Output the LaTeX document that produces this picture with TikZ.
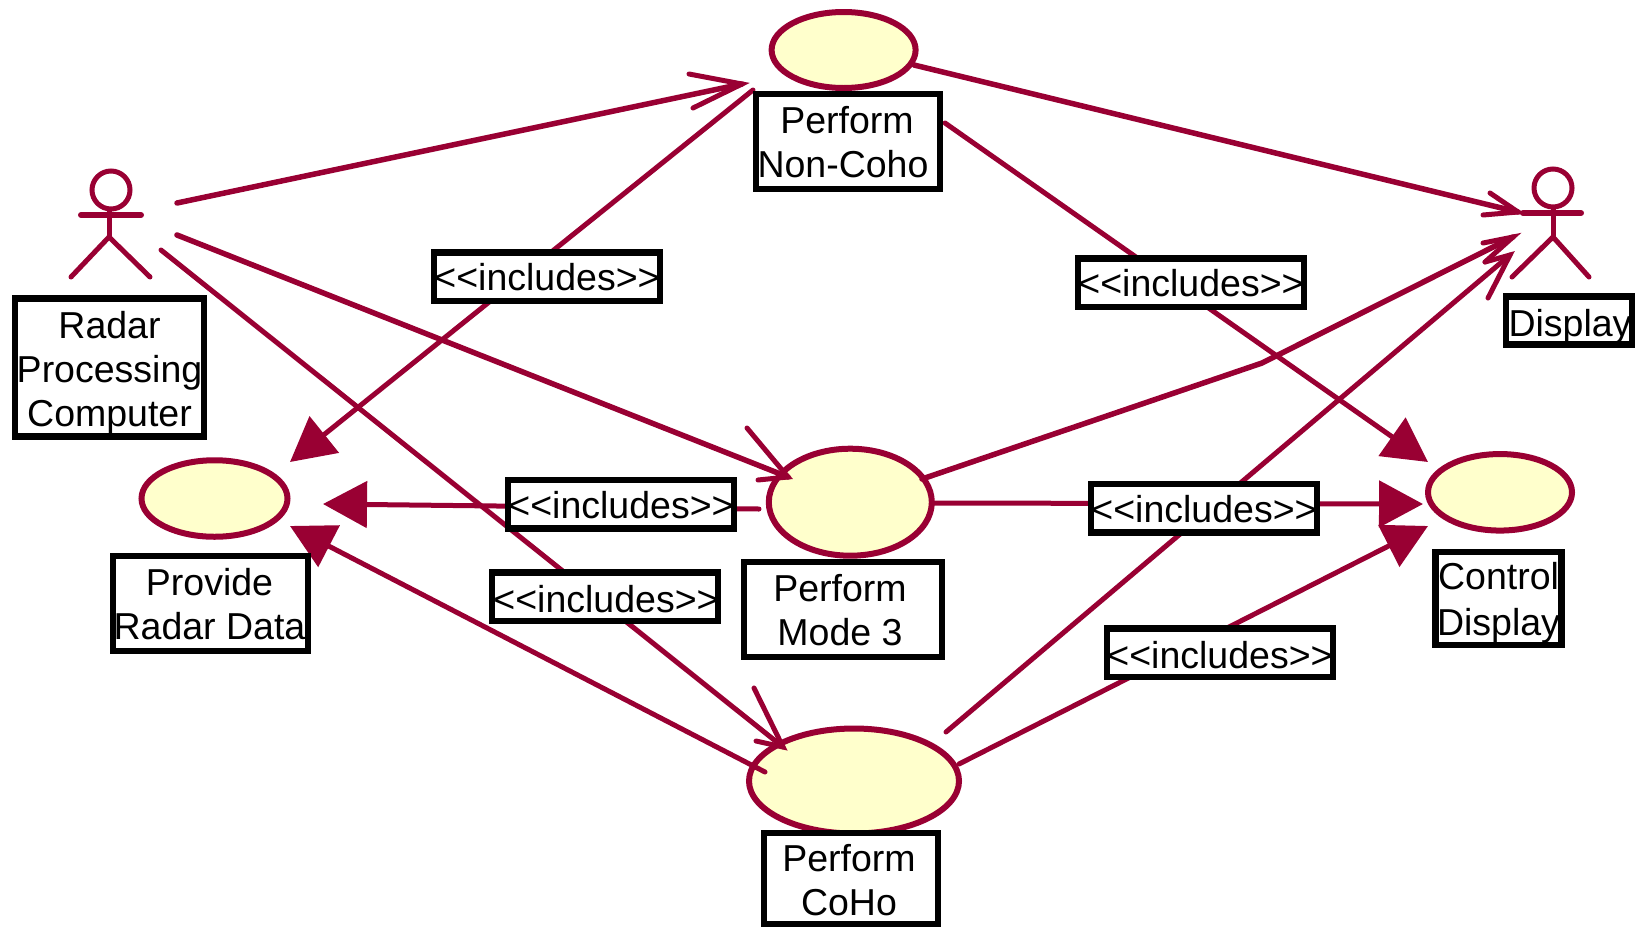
\documentclass[tikz,border=0pt]{standalone}
\usepackage{fontspec}
\setmainfont[Ligatures=NoCommon]{Liberation Sans}
\usetikzlibrary{arrows.meta,shapes.geometric}
\pgfdeclarelayer{uclayer}
\pgfdeclarelayer{linelayer}
\pgfsetlayers{uclayer,linelayer,main}
\definecolor{rosered}{HTML}{990033}
\definecolor{ucfill}{HTML}{FFFFCC}
\newcommand\tshift[3]{\smash{\raisebox{#2}{\hspace*{#1}\begin{tabular}{@{}c@{}}#3\end{tabular}\hspace*{-#1}}}}
\newcommand\incltext{<{}<includes>{}>}
\tikzset{
  x=1pt,y=-1pt,
  usecase/.style={ellipse,draw=rosered,fill=ucfill,line width=6pt,inner sep=0pt,outer sep=0pt},
  namebox/.style={draw=black,fill=white,line width=6.5pt,rectangle,inner sep=0pt,outer sep=0pt,
     font=\fontsize{37.5}{44}\selectfont},
  stereobox/.style={namebox,minimum width=226pt,minimum height=48.5pt},
  assoc/.style={draw=rosered,line width=5.5pt,line cap=round},
  assocthin/.style={draw=rosered,line width=5pt,line cap=round},
  barbhead/.style={draw=rosered,line width=5pt,line cap=round,line join=miter,miter limit=10},
  incl/.style={draw=rosered,line width=5pt,line cap=round,-{Triangle[length=44pt,width=46pt]}},
  actorline/.style={draw=rosered,line width=5pt,line cap=round},
}
\begin{document}
\begin{tikzpicture}
\useasboundingbox (0,0) rectangle (1637,927);
% use cases
\begin{pgfonlayer}{uclayer}
\node[usecase,minimum width=144pt,minimum height=76pt] (ucNonCoho) at (843.6,50) {};
\node[usecase,minimum width=163pt,minimum height=107pt] (ucMode) at (850.3,502.2) {};
\node[usecase,minimum width=146pt,minimum height=76.5pt] (ucProvide) at (214.5,498.5) {};
\node[usecase,minimum width=144pt,minimum height=76.5pt] (ucControl) at (1500,492.3) {};
\node[usecase,minimum width=210pt,minimum height=105pt] (ucCoho) at (854,781) {};
\end{pgfonlayer}
% actors
\node[ellipse,draw=rosered,line width=5pt,minimum width=38pt,minimum height=38pt,inner sep=0pt] (headL) at (111,190) {};
\coordinate (armLa) at (81,215); \coordinate (armLb) at (141,215);
\coordinate (hipL) at (109,237);
\coordinate (footLa) at (71,277); \coordinate (footLb) at (150,277);
\draw[actorline,line width=6pt] (armLa) -- (armLb);
\draw[actorline] (headL.south -| hipL) -- (hipL);
\draw[actorline] (footLa) -- (hipL) -- (footLb);
\node[ellipse,draw=rosered,line width=5pt,minimum width=38pt,minimum height=38pt,inner sep=0pt] (headR) at (1553,188) {};
\coordinate (armRa) at (1523,213); \coordinate (armRb) at (1581,213);
\coordinate (hipR) at (1553,237);
\coordinate (footRa) at (1512,277); \coordinate (footRb) at (1589,277);
\draw[actorline,line width=6pt] (armRa) -- (armRb);
\draw[actorline] (headR.south) -- (hipR);
\draw[actorline] (footRa) -- (hipR) -- (footRb);
% name boxes
\node[namebox,minimum width=189pt,minimum height=138pt] (nRadar) at (109.5,367.5) {\tshift{0pt}{-12.3pt}{Radar\\Processing\\Computer}};
\node[namebox,minimum width=184pt,minimum height=95pt] (nNonCoho) at (848,141.5) {\tshift{-1pt}{-11.5pt}{Perform\\Non-Coho\hspace*{8pt}}};
\node[namebox,minimum width=126pt,minimum height=48pt] (nDisplay) at (1569,320.5) {\tshift{1pt}{-13.4pt}{Display}};
\node[namebox,minimum width=195pt,minimum height=95pt] (nProvide) at (210.5,603.5) {\tshift{-1pt}{-11.8pt}{Provide\\Radar Data}};
\node[namebox,minimum width=198pt,minimum height=95pt] (nMode) at (843,609.5) {\tshift{-3pt}{-11.8pt}{Perform\\Mode 3}};
\node[namebox,minimum width=126pt,minimum height=93pt] (nControl) at (1498.5,598.5) {\tshift{0pt}{-11.3pt}{Control\\[2pt]Display}};
\node[namebox,minimum width=174pt,minimum height=91pt] (nCoho) at (851,878.5) {\tshift{-2pt}{-12.8pt}{Perform\\CoHo}};
% stereotype labels
\node[stereobox] (s1) at (547,276.5) {\tshift{0pt}{-11.5pt}{\incltext}};
\node[stereobox] (s2) at (1191,282.5) {\tshift{0pt}{-11.5pt}{\incltext}};
\node[stereobox] (s3) at (621,504) {\tshift{0pt}{-11.5pt}{\incltext}};
\node[stereobox] (s4) at (605,596.5) {\tshift{1pt}{-13pt}{\incltext}};
\node[stereobox] (s5) at (1204,508) {\tshift{0pt}{-11.5pt}{\incltext}};
\node[stereobox] (s6) at (1220,652.5) {\tshift{0pt}{-13pt}{\incltext}};
% connector ends
\coordinate (radarOutA) at (177,203);
\coordinate (radarOutB) at (177,235);
\coordinate (radarOutC) at (161,250);
\coordinate (nonCohoIn) at (742,84);
\coordinate (nonCohoBa) at (689,74);
\coordinate (nonCohoBb) at (693,108);
\coordinate (modeIn) at (788,477);
\coordinate (modeBa) at (747,428);
\coordinate (modeBb) at (758,480);
\coordinate (cohoIn) at (783,747);
\coordinate (cohoBa) at (754,688);
\coordinate (cohoBb) at (756,741);
\coordinate (nonCohoOut) at (914,65);
\coordinate (displayInA) at (1518,212);
\coordinate (dispAa) at (1490,193);
\coordinate (dispAb) at (1483,215);
\coordinate (modeOutD) at (922,479);
\coordinate (modeBend) at (1262,363);
\coordinate (displayInB) at (1513,237);
\coordinate (dispBa) at (1483,243);
\coordinate (dispBb) at (1485,262);
\coordinate (cohoOutD) at (946,732);
\coordinate (displayInC) at (1510,255);
\coordinate (dispCa) at (1485,262);
\coordinate (dispCb) at (1488,298);
\coordinate (nonCohoInclA) at (753,90);
\coordinate (provideInA) at (290,462);
\coordinate (nonCohoInclB) at (945,123);
\coordinate (controlInA) at (1428,462);
\coordinate (modeInclA) at (759,509);
\coordinate (provideInB) at (323,504);
\coordinate (modeInclB) at (934,503);
\coordinate (controlInB) at (1423,504);
\coordinate (cohoInclA) at (765,772);
\coordinate (provideInC) at (290,526);
\coordinate (cohoInclB) at (959,764);
\coordinate (controlInC) at (1428,526);
\begin{pgfonlayer}{linelayer}
\draw[assoc] (radarOutA) -- (nonCohoIn);
\draw[barbhead] (nonCohoBa) -- (nonCohoIn) -- (nonCohoBb);
\draw[assoc] (radarOutB) -- (modeIn);
\draw[barbhead] (modeBa) -- (modeIn) -- (modeBb);
\draw[assocthin] (radarOutC) -- (cohoIn);
\draw[barbhead] (cohoBa) -- (cohoIn) -- (cohoBb);
\draw[assoc] (nonCohoOut) -- (displayInA);
\draw[barbhead] (dispAa) -- (displayInA) -- (dispAb);
\draw[assoc] (modeOutD) -- (modeBend) -- (displayInB);
\draw[barbhead] (dispBa) -- (displayInB) -- (dispBb);
\draw[assocthin] (cohoOutD) -- (displayInC);
\draw[barbhead] (dispCa) -- (displayInC) -- (dispCb);
\draw[incl] (nonCohoInclA) -- (provideInA);
\draw[incl] (nonCohoInclB) -- (controlInA);
\draw[incl] (modeInclA) -- (provideInB);
\draw[incl] (modeInclB) -- (controlInB);
\draw[incl] (cohoInclA) -- (provideInC);
\draw[incl] (cohoInclB) -- (controlInC);
\end{pgfonlayer}
\end{tikzpicture}
\end{document}
